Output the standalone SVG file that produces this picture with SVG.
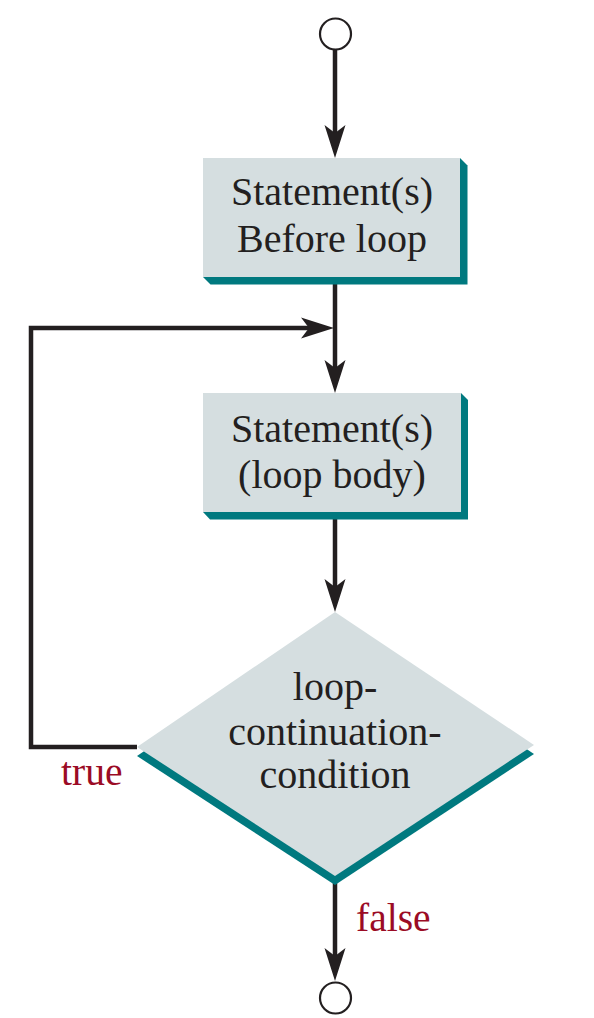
<svg xmlns="http://www.w3.org/2000/svg" width="594" height="1018" viewBox="0 0 594 1018">
<style>
.conn{fill:none;stroke:#231f20;stroke-width:4.5}
.box{fill:#d5dee0}
.shadow{fill:#00797f}
.t{font-family:'Liberation Serif','Times New Roman','DejaVu Serif',serif;font-size:40px;fill:#231f20;text-anchor:middle}
.lbl{font-family:'Liberation Serif','Times New Roman','DejaVu Serif',serif;font-size:39.5px;fill:#9b0b25}
.term{fill:#fff;stroke:#231f20;stroke-width:2.2}
</style>
<defs>
<marker id="ah" viewBox="-34 -11 36 22" markerWidth="36" markerHeight="22" refX="-22" refY="0" orient="auto" markerUnits="userSpaceOnUse">
<path d="M0,0 L-33,-10.5 L-25,0 L-33,10.5 Z" fill="#231f20"/>
</marker>
</defs>
<g id="connectors">
<path class="conn" d="M335,50 V136" marker-end="url(#ah)"/>
<path class="conn" d="M335,277 V371" marker-end="url(#ah)"/>
<path class="conn" d="M137,747 H31 V328 H312" marker-end="url(#ah)"/>
<path class="conn" d="M335,512 V590" marker-end="url(#ah)"/>
<path class="conn" d="M335,880 V959" marker-end="url(#ah)"/>
</g>
<g id="start">
<circle class="term" cx="335.5" cy="34" r="15.5"/>
</g>
<g id="before">
<polygon class="shadow" points="460,158 467.5,165.5 467.5,284.5 210.5,284.5 203,277"/>
<rect class="box" x="203" y="158" width="257" height="119"/>
<text class="t" x="332" y="205">Statement(s)</text>
<text class="t" x="332" y="252">Before loop</text>
</g>
<g id="body">
<polygon class="shadow" points="461,393 468,400 468,519.5 210,519.5 203,512"/>
<rect class="box" x="203" y="393" width="258" height="119"/>
<text class="t" x="332" y="442">Statement(s)</text>
<text class="t" x="332" y="488">(loop body)</text>
</g>
<g id="condition">
<polygon class="shadow" points="335,621 534,754 335,885 137,756"/>
<polygon class="box" points="335,612 534,745 335,876 137,747"/>
<text class="t" x="335" y="700">loop-</text>
<text class="t" x="335" y="745">continuation-</text>
<text class="t" x="335" y="788">condition</text>
</g>
<g id="labels">
<text class="lbl" x="61" y="785">true</text>
<text class="lbl" x="356" y="931">false</text>
</g>
<g id="end">
<circle class="term" cx="335.5" cy="998" r="15.5"/>
</g>
</svg>
